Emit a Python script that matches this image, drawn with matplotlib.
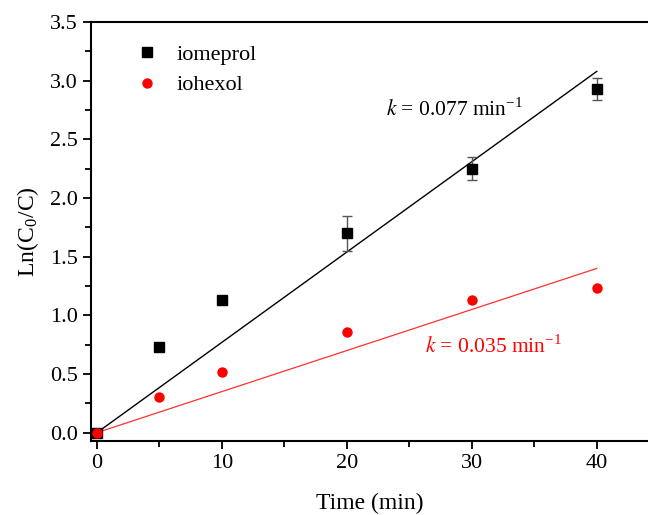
import numpy as np
import matplotlib
matplotlib.use('Agg')
import matplotlib.pyplot as plt
from matplotlib.ticker import MultipleLocator, FormatStrFormatter

plt.rcParams['font.family'] = ['Liberation Serif', 'DejaVu Serif']
plt.rcParams['mathtext.fontset'] = 'stix'

# ---- data ----
time = [0, 5, 10, 20, 30, 40]
iomeprol = [0.0, 0.73, 1.13, 1.70, 2.25, 2.93]
iomeprol_err = [0.0, 0.0, 0.0, 0.15, 0.10, 0.09]
iohexol = [0.0, 0.30, 0.52, 0.86, 1.13, 1.23]
k_iomeprol = 0.077
k_iohexol = 0.035

fig = plt.figure(figsize=(6.48, 5.15), dpi=100)
ax = fig.add_axes([0.140, 0.144, 0.86, 0.813])

t_fit = np.array([0, 40])
ax.plot(t_fit, k_iomeprol * t_fit, color='black', lw=1.0, zorder=2)
ax.plot(t_fit, k_iohexol * t_fit, color='#ff3030', lw=0.9, zorder=2)

ax.errorbar(time, iomeprol, yerr=iomeprol_err, fmt='none',
            ecolor='#555555', elinewidth=1, capsize=3.5, capthick=1, zorder=3)
ax.plot(time, iomeprol, 's', color='black', ms=7, label='iomeprol', zorder=4)
ax.plot(time, iohexol, 'o', color='#ff0000', ms=7.5, mec='none', label='iohexol', zorder=4)

ax.text(0.53, 0.79, r'$k$ = 0.077 min$^{\mathregular{-1}}$', transform=ax.transAxes,
        fontsize=15.5, color='black', ha='left', va='center')
ax.text(0.60, 0.225, r'$k$ = 0.035 min$^{\mathregular{-1}}$', transform=ax.transAxes,
        fontsize=15.5, color='#ff0000', ha='left', va='center')

ax.set_xlim(-0.5, 44.1)
ax.set_ylim(-0.07, 3.5)
ax.xaxis.set_major_locator(MultipleLocator(10))
ax.xaxis.set_minor_locator(MultipleLocator(5))
ax.yaxis.set_major_locator(MultipleLocator(0.5))
ax.yaxis.set_minor_locator(MultipleLocator(0.25))
ax.yaxis.set_major_formatter(FormatStrFormatter('%.1f'))
ax.tick_params(which='major', direction='out', length=6, width=1.3, labelsize=16)
ax.tick_params(which='minor', direction='out', length=4, width=1.3)
ax.tick_params(top=False, right=False)
ax.spines['right'].set_visible(False)
for s in ['left', 'bottom', 'top']:
    ax.spines[s].set_linewidth(1.5)

ax.set_xlabel('Time (min)', fontsize=17, labelpad=14)
ax.set_ylabel(r'Ln(C$_{\mathregular{0}}$/C)', fontsize=17, labelpad=6)

ax.legend(loc='upper left', bbox_to_anchor=(0.035, 0.995), frameon=False, fontsize=16,
          handletextpad=0.6, labelspacing=0.45, handlelength=1.5)

fig.savefig('out.png', dpi=100)
